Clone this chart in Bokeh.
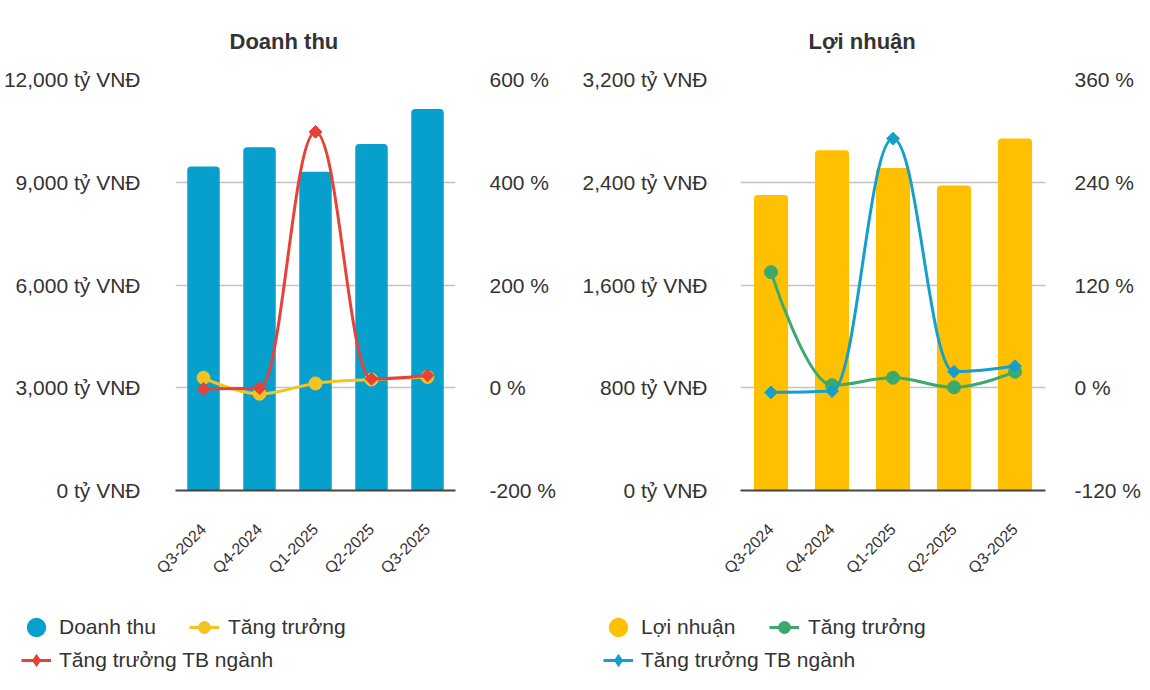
import math
from bokeh.plotting import figure
from bokeh.models import (Range1d, LinearAxis, FixedTicker, Legend, LegendItem,
                          ColumnDataSource)
from bokeh.layouts import row, column
from bokeh.embed import file_html
from bokeh.resources import INLINE

# ---------------- data ----------------
quarters = ["Q3-2024", "Q4-2024", "Q1-2025", "Q2-2025", "Q3-2025"]

doanh_thu = [9460, 10020, 9310, 10120, 11140]          # tỷ VNĐ
dt_tang_truong = [19.4, -11.7, 8.4, 16.0, 21.0]        # %
dt_tb_nganh = [-2.0, -1.0, 498.0, 17.5, 24.0]          # %

loi_nhuan = [2300, 2650, 2510, 2375, 2740]             # tỷ VNĐ
ln_tang_truong = [135.0, 3.0, 11.7, 0.5, 18.7]         # %
ln_tb_nganh = [-5.4, -3.9, 291.0, 18.7, 25.3]          # %

dt_left_ticks = [0, 3000, 6000, 9000, 12000]
dt_left_labels = ["0 tỷ VNĐ", "3,000 tỷ VNĐ", "6,000 tỷ VNĐ", "9,000 tỷ VNĐ", "12,000 tỷ VNĐ"]
dt_right_ticks = [-200, 0, 200, 400, 600]
dt_right_labels = ["-200 %", "0 %", "200 %", "400 %", "600 %"]

ln_left_ticks = [0, 800, 1600, 2400, 3200]
ln_left_labels = ["0 tỷ VNĐ", "800 tỷ VNĐ", "1,600 tỷ VNĐ", "2,400 tỷ VNĐ", "3,200 tỷ VNĐ"]
ln_right_ticks = [-120, 0, 120, 240, 360]
ln_right_labels = ["-120 %", "0 %", "120 %", "240 %", "360 %"]

FONT = "Liberation Sans"
TXT = "#333333"
NAN = float("nan")


def spline_controls(xs, ys, smoothing=1.5):
    """Highcharts-style spline control points (rendering of the series only)."""
    n = len(xs)
    lc = [[x, y] for x, y in zip(xs, ys)]
    rc = [[x, y] for x, y in zip(xs, ys)]
    denom = smoothing + 1
    for i in range(1, n - 1):
        x, y = xs[i], ys[i]
        lx, ly = xs[i - 1], ys[i - 1]
        nx, ny = xs[i + 1], ys[i + 1]
        lcx = (smoothing * x + lx) / denom
        lcy = (smoothing * y + ly) / denom
        rcx = (smoothing * x + nx) / denom
        rcy = (smoothing * y + ny) / denom
        if rcx != lcx:
            corr = (rcy - lcy) * (rcx - x) / (rcx - lcx) + y - rcy
            lcy += corr
            rcy += corr
        if lcy > ly and lcy > y:
            lcy = max(ly, y); rcy = 2 * y - lcy
        elif lcy < ly and lcy < y:
            lcy = min(ly, y); rcy = 2 * y - lcy
        if rcy > ny and rcy > y:
            rcy = max(ny, y); lcy = 2 * y - rcy
        elif rcy < ny and rcy < y:
            rcy = min(ny, y); lcy = 2 * y - rcy
        lc[i] = [lcx, lcy]
        rc[i] = [rcx, rcy]
    return dict(
        x0=xs[:-1], y0=ys[:-1], x1=xs[1:], y1=ys[1:],
        cx0=[rc[i][0] for i in range(n - 1)], cy0=[rc[i][1] for i in range(n - 1)],
        cx1=[lc[i + 1][0] for i in range(n - 1)], cy1=[lc[i + 1][1] for i in range(n - 1)],
    )


def style_legend(leg, gw, gh, standoff):
    leg.orientation = "horizontal"
    leg.border_line_color = None
    leg.background_fill_alpha = 0
    leg.padding = 0
    leg.margin = 0
    leg.spacing = 0
    leg.label_standoff = standoff
    leg.glyph_width = gw
    leg.glyph_height = gh
    leg.label_text_font = FONT
    leg.label_text_font_size = "21px"
    leg.label_text_color = TXT
    leg.label_height = 20


def make_chart(title, title_offset, bars, bar_color, bar_width, bar_name,
               g1, g1_color, g1_name, g2, g2_color, g2_name,
               lticks, llabels, rticks, rlabels,
               border_left, border_right, lstand, rstand, leg_shift):
    xs = list(range(len(quarters)))
    p = figure(width=575, height=595, output_backend="svg", toolbar_location=None,
               x_range=Range1d(-0.5, len(quarters) - 0.5),
               y_range=Range1d(lticks[0], lticks[-1]),
               min_border_left=border_left, min_border_right=border_right,
               min_border_top=79, min_border_bottom=105,
               outline_line_color=None, background_fill_color="white",
               border_fill_color="white")
    p.extra_y_ranges = {"pct": Range1d(rticks[0], rticks[-1])}

    # title
    p.title.text = title
    p.title.align = "left"
    p.title.offset = title_offset
    p.title.text_font = FONT
    p.title.text_font_size = "22px"
    p.title.text_font_style = "bold"
    p.title.text_color = TXT
    p.title.standoff = 52

    # axes
    xa = p.xaxis[0]
    xa.ticker = FixedTicker(ticks=xs)
    xa.major_label_overrides = {i: q for i, q in enumerate(quarters)}
    xa.major_label_orientation = math.pi / 4
    xa.major_label_text_font = FONT
    xa.major_label_text_font_size = "16px"
    xa.major_label_text_color = TXT
    xa.axis_line_color = "#444444"
    xa.axis_line_width = 2
    xa.major_tick_line_color = None
    xa.minor_tick_line_color = None
    xa.major_label_standoff = 30

    ya = p.yaxis[0]
    ya.ticker = FixedTicker(ticks=lticks)
    ya.major_label_overrides = {t: l for t, l in zip(lticks, llabels)}
    ya.major_label_text_font = FONT
    ya.major_label_text_font_size = "21px"
    ya.major_label_text_color = TXT
    ya.axis_line_color = None
    ya.major_tick_line_color = None
    ya.minor_tick_line_color = None
    ya.major_label_standoff = lstand

    ra = LinearAxis(y_range_name="pct", ticker=FixedTicker(ticks=rticks))
    ra.major_label_overrides = {t: l for t, l in zip(rticks, rlabels)}
    ra.major_label_text_font = FONT
    ra.major_label_text_font_size = "21px"
    ra.major_label_text_color = TXT
    ra.axis_line_color = None
    ra.major_tick_line_color = None
    ra.minor_tick_line_color = None
    ra.major_label_standoff = rstand
    p.add_layout(ra, "right")

    p.xgrid.grid_line_color = None
    p.ygrid.ticker = FixedTicker(ticks=lticks)
    p.ygrid.grid_line_color = "#c2c2c2"
    p.ygrid.grid_line_width = 1.5

    # bars
    p.vbar(x=xs, top=bars, width=bar_width, bottom=0, fill_color=bar_color,
           line_color=None, border_radius=(4, 4, 0, 0))

    for vals, color, marker, size in ((g1, g1_color, "circle", 13),
                                      (g2, g2_color, "square", 9)):
        src = ColumnDataSource(spline_controls([float(v) for v in xs], [float(v) for v in vals]))
        p.bezier(x0="x0", y0="y0", x1="x1", y1="y1", cx0="cx0", cy0="cy0",
                 cx1="cx1", cy1="cy1", source=src, line_color=color, line_width=3,
                 y_range_name="pct")
        angle = math.pi / 4 if marker == "square" else 0
        p.scatter(x=xs, y=vals, marker=marker, size=size, angle=angle,
                  fill_color=color, line_color=color, y_range_name="pct")

    # ---- legend strip below the chart (proxy renderers draw nothing: NaN) ----
    lf = figure(width=575, height=95, output_backend="svg", toolbar_location=None,
                x_range=Range1d(0, 1), y_range=Range1d(0, 1),
                x_axis_location=None, y_axis_location=None, min_border=0,
                outline_line_color=None, background_fill_color="white",
                border_fill_color="white")
    lf.grid.visible = False
    r_bar = lf.scatter(x=[NAN], y=[NAN], marker="circle", fill_color=bar_color, line_color=bar_color)
    r_g1l = lf.line(x=[NAN], y=[NAN], line_color=g1_color, line_width=3)
    r_g1m = lf.scatter(x=[NAN], y=[NAN], marker="circle", fill_color=g1_color, line_color=g1_color)
    r_g2l = lf.line(x=[NAN], y=[NAN], line_color=g2_color, line_width=3)
    r_g2m = lf.scatter(x=[NAN], y=[NAN], marker="diamond", fill_color=g2_color, line_color=g2_color)

    legA = Legend(items=[LegendItem(label=bar_name, renderers=[r_bar])],
                  location=(13 + leg_shift[0], 38))
    style_legend(legA, 46, 50, 0)
    legB = Legend(items=[LegendItem(label=g1_name, renderers=[r_g1l, r_g1m])],
                  location=(189 + leg_shift[1], 46))
    style_legend(legB, 30, 34, 9)
    legC = Legend(items=[LegendItem(label=g2_name, renderers=[r_g2l, r_g2m])],
                  location=(21 + leg_shift[2], 13))
    style_legend(legC, 30, 34, 8)
    for lg in (legA, legB, legC):
        lf.add_layout(lg)
    return p, lf


p1, l1 = make_chart("Doanh thu", 54, doanh_thu, "#079FCC", 0.58, "Doanh thu",
                    dt_tang_truong, "#F5C31F", "Tăng trưởng",
                    dt_tb_nganh, "#E8413A", "Tăng trưởng TB ngành",
                    dt_left_ticks, dt_left_labels, dt_right_ticks, dt_right_labels,
                    172, 120, 29, 28, (0, 0, 0))
p2, l2 = make_chart("Lợi nhuận", 68, loi_nhuan, "#FFC000", 0.56, "Lợi nhuận",
                    ln_tang_truong, "#3BAA6C", "Tăng trưởng",
                    ln_tb_nganh, "#149FCC", "Tăng trưởng TB ngành",
                    ln_left_ticks, ln_left_labels, ln_right_ticks, ln_right_labels,
                    165, 105, 27, 23, (7, 5, 7))

layout = column(row(p1, p2), row(l1, l2))
open("out.html", "w").write(file_html(layout, INLINE))
